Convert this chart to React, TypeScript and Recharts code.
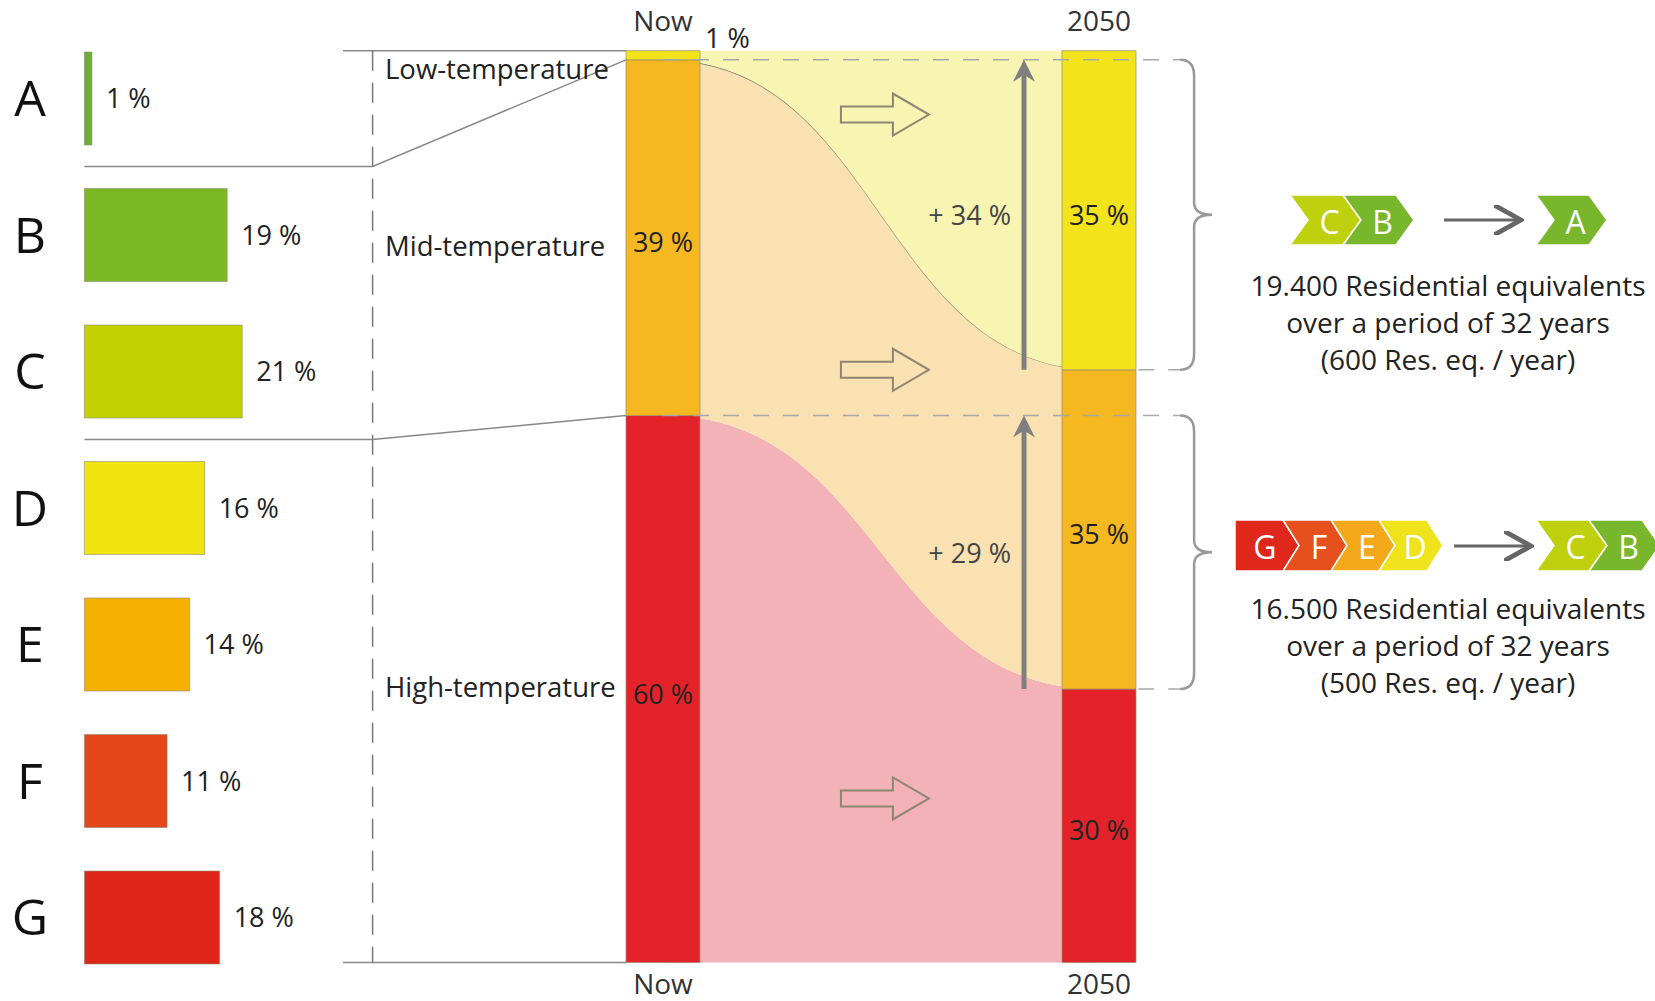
import React from 'react';
import {
  BarChart,
  ComposedChart,
  Bar,
  Area,
  XAxis,
  YAxis,
  Cell,
  LabelList,
  ReferenceLine,
  ReferenceDot,
} from 'recharts';

// energy labels on the left
const labelCats = ['A', 'B', 'C', 'D', 'E', 'F', 'G'];
const labelShares = [1, 19, 21, 16, 14, 11, 18];
const labelColors = ['#6cae33', '#7cb826', '#c3d100', '#f1e40e', '#f6b100', '#e5461a', '#df241a'];

// temperature split, Now vs 2050
const periods = ['Now', '2050'];
const periodPos = [0, 1];
const lowTemp = [1, 35];
const midTemp = [39, 35];
const highTemp = [60, 30];
const tempNames = ['Low-temperature', 'Mid-temperature', 'High-temperature'];
const tempColors = ['#f2e31b', '#f5b820', '#e3222a'];
const flowColors = ['#f8f4b2', '#f9e1b2', '#f3b2b8'];
const gains = ['+ 34 %', '+ 29 %'];
const flowArrowLevels = [93, 65, 18];

// upgrade boxes on the right
const upgradeFrom = [['C', 'B'], ['G', 'F', 'E', 'D']];
const upgradeTo = [['A'], ['C', 'B']];
const upgradeTexts = [
  ['19.400 Residential equivalents', 'over a period of 32 years', '(600 Res. eq. / year)'],
  ['16.500 Residential equivalents', 'over a period of 32 years', '(500 Res. eq. / year)'],
];
const chevronColors: Record<string, string> = {
  A: '#78b62c',
  B: '#78b62c',
  C: '#bfd00f',
  D: '#efe31c',
  E: '#f4a91b',
  F: '#e6501d',
  G: '#e0271c',
};

const FONT = '"Open Sans", sans-serif';

// layout
const MID_TOP = 50.7;
const MID_BOTTOM = 962.6;
const NOW_CENTER = 663;
const FUT_CENTER = 1099;
const BAR_W = 74;
const ARROW_X = 0.828;
const BRACE_X = 1.186;
const LEFT_TOP = 30;
const LEFT_BOTTOM = 985.5;
const LEFT_PLOT_X = 84.4;
const BAND = (LEFT_BOTTOM - LEFT_TOP) / labelCats.length;
const DASH_X = 372.6;

const yMid = (v: number) => MID_BOTTOM - (v / 100) * (MID_BOTTOM - MID_TOP);

const leftData = labelCats.map((c, i) => ({ cat: c, share: labelShares[i] }));
const flowData = periods.map((p, i) => ({
  pos: periodPos[i],
  period: p,
  high: highTemp[i],
  mid: midTemp[i],
  low: lowTemp[i],
}));

const nowLowEdge = highTemp[0] + midTemp[0];
const nowMidEdge = highTemp[0];
const futLowEdge = highTemp[1] + midTemp[1];
const futMidEdge = highTemp[1];

function LetterTick(props: any) {
  const { y, payload } = props;
  return (
    <text x={30} y={y} dy="0.36em" textAnchor="middle" fontSize={50} fill="#111" fontFamily={FONT}>
      {payload.value}
    </text>
  );
}

function centerLabel(props: any) {
  const { x, y, width, height, value } = props;
  return (
    <text
      x={Number(x) + Number(width) / 2}
      y={Number(y) + Number(height) / 2 + 4}
      textAnchor="middle"
      dominantBaseline="central"
      fontSize={27}
      fill="#222"
      fontFamily={FONT}
    >
      {value} %
    </text>
  );
}

function lowLabel(props: any) {
  const { x, y, width, index, value } = props;
  if (index === 0) {
    return (
      <text x={Number(x) + Number(width) + 5} y={Number(y) - 3} fontSize={27} fill="#222" fontFamily={FONT}>
        {value} %
      </text>
    );
  }
  return centerLabel(props);
}

function upArrow(label: string) {
  return (props: any) => {
    const { x1, y1, x2, y2 } = props;
    const mid = (y1 + y2) / 2;
    return (
      <g>
        <line x1={x1} y1={y1} x2={x2} y2={y2 + 12} stroke="#7f7f7f" strokeWidth={5} />
        <path
          d={`M${x2 - 11},${y2 + 22} L${x2},${y2} L${x2 + 11},${y2 + 22} L${x2},${y2 + 15} Z`}
          fill="#7f7f7f"
        />
        <text
          x={x1 - 13}
          y={mid}
          textAnchor="end"
          dominantBaseline="central"
          fontSize={27}
          fill="#444"
          fontFamily={FONT}
        >
          {label}
        </text>
      </g>
    );
  };
}

function braceShape(props: any) {
  const { x1, y1, y2 } = props;
  const top = Math.min(y1, y2);
  const bot = Math.max(y1, y2);
  const m = (top + bot) / 2;
  const x = x1;
  const d = `M${x},${top} Q${x + 14},${top} ${x + 14},${top + 16} V${m - 12} Q${x + 14},${m} ${x + 32},${m} Q${x + 14},${m} ${x + 14},${m + 12} V${bot - 16} Q${x + 14},${bot} ${x},${bot}`;
  return <path d={d} fill="none" stroke="#999" strokeWidth={2.5} />;
}

function hollowArrow(props: any) {
  const { cx, cy } = props;
  const pts = [
    [cx - 44, cy - 8],
    [cx + 8, cy - 8],
    [cx + 8, cy - 21],
    [cx + 44, cy],
    [cx + 8, cy + 21],
    [cx + 8, cy + 8],
    [cx - 44, cy + 8],
  ]
    .map((p) => p.join(','))
    .join(' ');
  return <polygon points={pts} fill="none" stroke="#8d8672" strokeWidth={2} />;
}

function chevron(x: number, y: number, w: number, h: number, tip: number, notch: boolean, letter: string) {
  const pts = [
    [x, y],
    [x + w - tip, y],
    [x + w, y + h / 2],
    [x + w - tip, y + h],
    [x, y + h],
    ...(notch ? [[x + tip, y + h / 2]] : []),
  ]
    .map((p) => p.join(','))
    .join(' ');
  return (
    <g key={letter + x}>
      <polygon points={pts} fill={chevronColors[letter]} stroke="#fff" strokeWidth={1.5} />
      <text
        x={x + w / 2 + (notch ? 4 : -2)}
        y={y + h / 2 + 1}
        textAnchor="middle"
        dominantBaseline="central"
        fontSize={32}
        fill="#fff"
        fontFamily={FONT}
      >
        {letter}
      </text>
    </g>
  );
}

function Overlay() {
  const textX = 1448;
  return (
    <svg width={1655} height={1001} style={{ position: 'absolute', left: 0, top: 0 }}>
      <defs>
        <marker id="ah" markerWidth="10" markerHeight="10" refX="8" refY="5" orient="auto">
          <path d="M0,0 L9,5 L0,10" fill="none" stroke="#666" strokeWidth={1.6} />
        </marker>
      </defs>
      {/* connectors from label bars to the Now bar */}
      <path d={`M343,${MID_TOP} H626`} stroke="#888" strokeWidth={1.5} fill="none" />
      <path d={`M343,${MID_BOTTOM} H626`} stroke="#888" strokeWidth={1.5} fill="none" />
      <path d={`M${DASH_X},${MID_TOP} V${MID_BOTTOM}`} stroke="#777" strokeWidth={1.5} strokeDasharray="20 12" />
      <path
        d={`M${LEFT_PLOT_X},${LEFT_TOP + BAND} H${DASH_X} L626,${yMid(nowLowEdge)}`}
        stroke="#888"
        strokeWidth={1.5}
        fill="none"
      />
      <path
        d={`M${LEFT_PLOT_X},${LEFT_TOP + BAND * 3} H${DASH_X} L626,${yMid(nowMidEdge)}`}
        stroke="#888"
        strokeWidth={1.5}
        fill="none"
      />
      {tempNames.map((t, i) => (
        <text
          key={t}
          x={385}
          y={[68, 245, 686][i]}
          dominantBaseline="central"
          fontSize={27.5}
          fill="#222"
          fontFamily={FONT}
        >
          {t}
        </text>
      ))}

      {/* upgrade chevrons */}
      {upgradeFrom[0].map((l, i) => chevron(1290 + i * 53, 195, 71, 50, 18, true, l))}
      <line x1={1444} y1={220} x2={1518} y2={220} stroke="#666" strokeWidth={3} markerEnd="url(#ah)" />
      {upgradeTo[0].map((l, i) => chevron(1536 + i * 53, 195, 71, 50, 18, true, l))}

      {upgradeFrom[1].map((l, i) => chevron(1235 + i * 48, 520, 64, 51, 16, i > 0, l))}
      <line x1={1454} y1={546} x2={1528} y2={546} stroke="#666" strokeWidth={3} markerEnd="url(#ah)" />
      {upgradeTo[1].map((l, i) => chevron(1536 + i * 53, 520, 71, 51, 18, true, l))}

      {upgradeTexts.map((lines, g) =>
        lines.map((s, i) => (
          <text
            key={`${g}-${i}`}
            x={textX}
            y={[285, 608][g] + i * 37}
            textAnchor="middle"
            dominantBaseline="central"
            fontSize={28}
            fill="#222"
            fontFamily={FONT}
          >
            {s}
          </text>
        ))
      )}
    </svg>
  );
}

function LabelBars() {
  return (
    <div style={{ position: 'absolute', left: 0, top: 0 }}>
      <BarChart
        layout="vertical"
        width={390}
        height={1001}
        data={leftData}
        margin={{ top: LEFT_TOP, bottom: 1001 - LEFT_BOTTOM, left: 0, right: 5 }}
      >
        <XAxis type="number" domain={[0, 40]} hide />
        <YAxis
          type="category"
          dataKey="cat"
          width={LEFT_PLOT_X}
          axisLine={false}
          tickLine={false}
          tick={<LetterTick />}
        />
        <Bar dataKey="share" barSize={93} stroke="#8c8c70" strokeWidth={0.6} isAnimationActive={false}>
          {leftData.map((d, i) => (
            <Cell key={d.cat} fill={labelColors[i]} />
          ))}
          <LabelList
            dataKey="share"
            position="right"
            offset={14}
            formatter={(v: any) => `${v} %`}
            style={{ fontSize: 27, fill: '#222', fontFamily: FONT }}
          />
        </Bar>
      </BarChart>
    </div>
  );
}

function TempFlow() {
  const plotW = FUT_CENTER - NOW_CENTER;
  const tick = { fontSize: 28, fill: '#333', fontFamily: FONT };
  return (
    <div style={{ position: 'absolute', left: 0, top: 0 }}>
      <ComposedChart
        width={1655}
        height={1001}
        data={flowData}
        margin={{ top: MID_TOP - 30, bottom: 1001 - MID_BOTTOM - 30, left: NOW_CENTER, right: 1655 - NOW_CENTER - plotW }}
      >
        <XAxis
          xAxisId="top"
          orientation="top"
          type="number"
          dataKey="pos"
          domain={[0, 1]}
          ticks={periodPos}
          tickFormatter={(v: number) => periods[periodPos.indexOf(v)]}
          axisLine={false}
          tickLine={false}
          tickMargin={14}
          height={30}
          tick={tick}
        />
        <XAxis
          xAxisId="bottom"
          orientation="bottom"
          type="number"
          dataKey="pos"
          domain={[0, 1]}
          ticks={periodPos}
          tickFormatter={(v: number) => periods[periodPos.indexOf(v)]}
          axisLine={false}
          tickLine={false}
          tickMargin={6}
          height={30}
          tick={tick}
        />
        <YAxis type="number" domain={[0, 100]} hide />

        <Area xAxisId="top" type="bumpX" dataKey="high" stackId="flow" fill={flowColors[2]} fillOpacity={1} stroke="none" isAnimationActive={false} />
        <Area xAxisId="top" type="bumpX" dataKey="mid" stackId="flow" fill={flowColors[1]} fillOpacity={1} stroke="#8f8a7a" strokeWidth={1.2} isAnimationActive={false} />
        <Area xAxisId="top" type="bumpX" dataKey="low" stackId="flow" fill={flowColors[0]} fillOpacity={1} stroke="none" isAnimationActive={false} />

        <Bar xAxisId="bottom" dataKey="high" stackId="bar" barSize={BAR_W} fill={tempColors[2]} stroke="#9a8c70" strokeWidth={0.7} isAnimationActive={false}>
          <LabelList dataKey="high" content={centerLabel} />
        </Bar>
        <Bar xAxisId="bottom" dataKey="mid" stackId="bar" barSize={BAR_W} fill={tempColors[1]} stroke="#9a8c70" strokeWidth={0.7} isAnimationActive={false}>
          <LabelList dataKey="mid" content={centerLabel} />
        </Bar>
        <Bar xAxisId="bottom" dataKey="low" stackId="bar" barSize={BAR_W} fill={tempColors[0]} stroke="#9a8c70" strokeWidth={0.7} isAnimationActive={false}>
          <LabelList dataKey="low" content={lowLabel} />
        </Bar>

        {/* dashed guides */}
        <ReferenceLine xAxisId="bottom" ifOverflow="visible" segment={[{ x: 0, y: nowLowEdge }, { x: BRACE_X, y: nowLowEdge }]} stroke="#a8a8a8" strokeWidth={1.5} strokeDasharray="16 14" />
        <ReferenceLine xAxisId="bottom" ifOverflow="visible" segment={[{ x: 0, y: nowMidEdge }, { x: BRACE_X, y: nowMidEdge }]} stroke="#a8a8a8" strokeWidth={1.5} strokeDasharray="16 14" />
        <ReferenceLine xAxisId="bottom" ifOverflow="visible" segment={[{ x: 1.09, y: futLowEdge }, { x: BRACE_X, y: futLowEdge }]} stroke="#a8a8a8" strokeWidth={1.5} strokeDasharray="16 14" />
        <ReferenceLine xAxisId="bottom" ifOverflow="visible" segment={[{ x: 1.09, y: futMidEdge }, { x: BRACE_X, y: futMidEdge }]} stroke="#a8a8a8" strokeWidth={1.5} strokeDasharray="16 14" />

        {/* growth arrows */}
        <ReferenceLine xAxisId="bottom" ifOverflow="visible" segment={[{ x: ARROW_X, y: futLowEdge }, { x: ARROW_X, y: nowLowEdge }]} shape={upArrow(gains[0])} />
        <ReferenceLine xAxisId="bottom" ifOverflow="visible" segment={[{ x: ARROW_X, y: futMidEdge }, { x: ARROW_X, y: nowMidEdge }]} shape={upArrow(gains[1])} />

        {/* braces */}
        <ReferenceLine xAxisId="bottom" ifOverflow="visible" segment={[{ x: BRACE_X, y: nowLowEdge }, { x: BRACE_X, y: futLowEdge }]} shape={braceShape} />
        <ReferenceLine xAxisId="bottom" ifOverflow="visible" segment={[{ x: BRACE_X, y: nowMidEdge }, { x: BRACE_X, y: futMidEdge }]} shape={braceShape} />

        {flowArrowLevels.map((lv) => (
          <ReferenceDot key={lv} xAxisId="bottom" x={0.509} y={lv} r={0} ifOverflow="visible" shape={hollowArrow} />
        ))}
      </ComposedChart>
    </div>
  );
}

export default function App() {
  return (
    <div
      style={{
        position: 'absolute',
        left: 0,
        top: 0,
        width: 1655,
        height: 1001,
        background: '#fff',
        fontFamily: FONT,
        overflow: 'hidden',
      }}
    >
      <Overlay />
      <LabelBars />
      <TempFlow />
    </div>
  );
}
